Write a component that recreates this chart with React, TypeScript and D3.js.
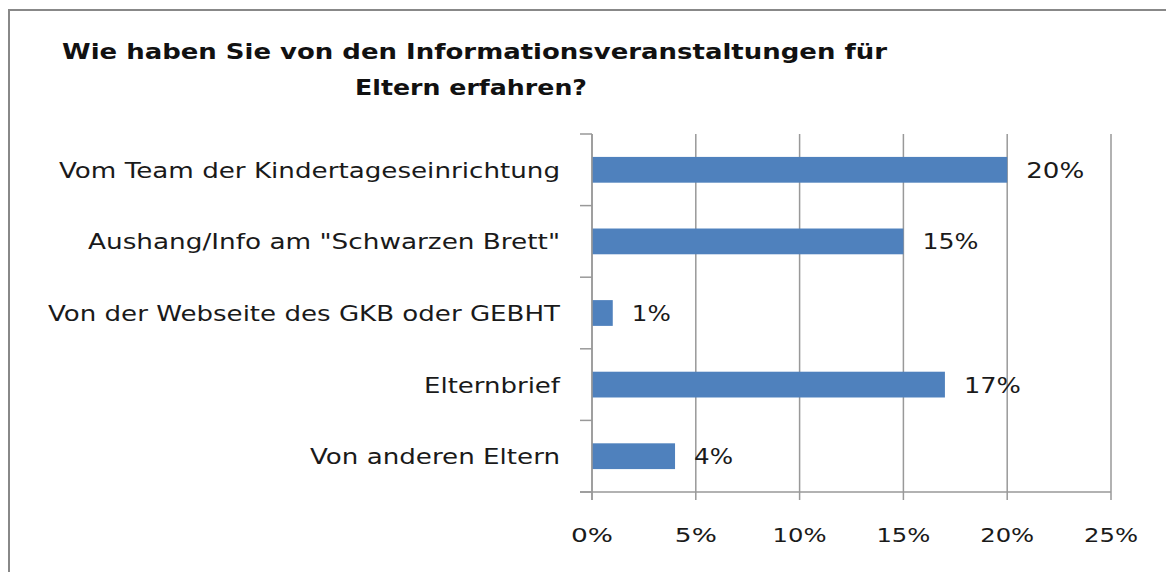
import React from "react";
import * as d3 from "d3";

const categories = [
  "Vom Team der Kindertageseinrichtung",
  'Aushang/Info am "Schwarzen Brett"',
  "Von der Webseite des GKB oder GEBHT",
  "Elternbrief",
  "Von anderen Eltern",
];
const values = [20, 15, 1, 17, 4];
const xTicks = [0, 5, 10, 15, 20, 25];
const titleLines = ["Wie haben Sie von den Informationsveranstaltungen für", "Eltern erfahren?"];

// measured text widths from reference (px)
const catWidths = [501, 472, 512, 136, 250];
const valueWidths: Record<number, number> = { 20: 58, 15: 56, 1: 39, 17: 57, 4: 39 };
const tickWidths: Record<number, number> = { 0: 42, 5: 42, 10: 54, 15: 54, 20: 54, 25: 54 };
const titleWidths = [825, 232];

export default function App() {
  const W = 1166;
  const H = 572;
  const x = d3.scaleLinear().domain([0, 25]).range([592, 1111]);
  const y = d3.scaleBand<string>().domain(categories).range([134, 492]).paddingInner(0.64).paddingOuter(0.32);
  const step = y.step();
  const grid = "#999";
  const font = "'DejaVu Sans', Verdana, sans-serif";
  const textColor = "#1a1a1a";

  return (
    <svg width={W} height={H} style={{ position: "absolute", left: 0, top: 0, background: "#fff" }}>
      <rect x={9} y={10} width={1300} height={700} fill="#fff" stroke="#888" strokeWidth={2} />
      {titleLines.map((t, i) => (
        <text
          key={i}
          x={i === 0 ? 62 : 355}
          y={i === 0 ? 59 : 95}
          fontFamily={font}
          fontWeight="bold"
          fontSize={22}
          fill="#111"
          textLength={titleWidths[i]}
          lengthAdjust="spacingAndGlyphs"
        >
          {t}
        </text>
      ))}
      {/* vertical gridlines */}
      {xTicks.map((t) => (
        <g key={t}>
          <line x1={x(t)} x2={x(t)} y1={134} y2={500} stroke={grid} strokeWidth={1.5} />
          <text
            x={x(t) - tickWidths[t] / 2}
            y={542}
            fontFamily={font}
            fontSize={20}
            fill={textColor}
            textLength={tickWidths[t]}
            lengthAdjust="spacingAndGlyphs"
          >
            {t}%
          </text>
        </g>
      ))}
      {/* y axis category ticks */}
      {d3.range(categories.length + 1).map((i) => {
        const yy = 134 + i * step;
        return <line key={i} x1={580} x2={592} y1={yy} y2={yy} stroke={grid} strokeWidth={1.5} />;
      })}
      <line x1={580} x2={x(25)} y1={492} y2={492} stroke={grid} strokeWidth={1.5} />
      {categories.map((c, i) => {
        const yc = (y(c) as number) + y.bandwidth() / 2;
        return (
          <g key={c}>
            <rect x={x(0)} y={y(c)} width={x(values[i]) - x(0)} height={y.bandwidth()} fill="#4F81BD" />
            <text
              x={560 - catWidths[i]}
              y={yc + 8}
              fontFamily={font}
              fontSize={22}
              fill={textColor}
              textLength={catWidths[i]}
              lengthAdjust="spacingAndGlyphs"
            >
              {c}
            </text>
            <text
              x={x(values[i]) + 19}
              y={yc + 8}
              fontFamily={font}
              fontSize={21}
              fill={textColor}
              textLength={valueWidths[values[i]]}
              lengthAdjust="spacingAndGlyphs"
            >
              {values[i]}%
            </text>
          </g>
        );
      })}
      <line x1={592} x2={592} y1={134} y2={500} stroke={grid} strokeWidth={1.5} />
    </svg>
  );
}
